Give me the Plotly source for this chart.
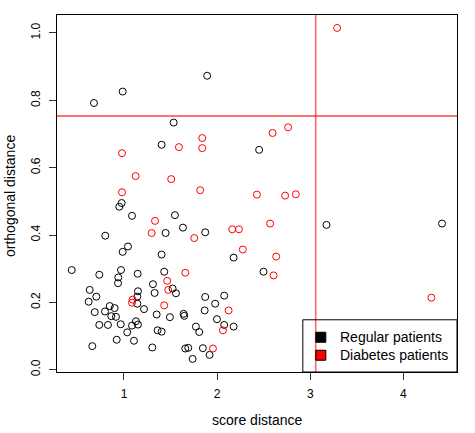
import plotly.graph_objects as go

# Regular patients (black)
reg_score = [0.678, 0.986, 1.893, 1.533, 1.404, 0.975, 0.950, 1.086, 1.547, 2.451,
             3.174, 4.414, 2.177, 2.498, 2.177, 1.633, 1.447, 1.872, 0.799, 1.043,
             0.986, 1.404, 0.439, 0.968, 0.735, 0.939, 1.147, 1.432, 0.936, 0.632,
             1.311, 1.150, 1.329, 1.522, 1.558, 0.703, 1.143, 1.872, 2.076, 0.621,
             1.143, 0.847, 0.900, 1.215, 1.866, 1.979, 0.686, 0.796, 0.864, 0.914,
             1.351, 1.493, 1.640, 1.647, 1.998, 0.735, 0.828, 0.965, 1.129, 1.086,
             1.150, 1.772, 2.076, 1.361, 1.404, 1.035, 1.808, 0.922, 1.107, 0.660,
             1.304, 1.658, 1.690, 1.847, 1.919, 1.737]
reg_orth = [0.792, 0.826, 0.873, 0.734, 0.668, 0.495, 0.484, 0.457, 0.459, 0.653,
            0.430, 0.434, 0.333, 0.291, 0.128, 0.422, 0.406, 0.408, 0.398, 0.366,
            0.350, 0.342, 0.296, 0.296, 0.282, 0.274, 0.285, 0.291, 0.257, 0.237,
            0.254, 0.233, 0.228, 0.241, 0.227, 0.217, 0.217, 0.216, 0.220, 0.202,
            0.196, 0.189, 0.183, 0.180, 0.176, 0.196, 0.171, 0.173, 0.159, 0.157,
            0.164, 0.156, 0.166, 0.160, 0.150, 0.133, 0.133, 0.135, 0.144, 0.131,
            0.134, 0.128, 0.133, 0.117, 0.113, 0.111, 0.112, 0.089, 0.086, 0.070,
            0.066, 0.063, 0.065, 0.064, 0.044, 0.032]

# Diabetes patients (red)
dia_score = [3.288, 2.762, 2.595, 1.840, 1.590, 1.840, 0.979, 1.125, 1.507, 1.818,
             0.979, 2.427, 2.730, 2.845, 1.333, 1.297, 1.754, 2.162, 2.234, 2.569,
             2.276, 2.634, 2.606, 4.300, 1.658, 1.464, 1.475, 1.093, 1.086, 1.432,
             2.123, 2.062, 1.955]
dia_orth = [1.015, 0.720, 0.703, 0.688, 0.661, 0.658, 0.643, 0.575, 0.566, 0.533,
            0.527, 0.520, 0.517, 0.521, 0.442, 0.406, 0.391, 0.417, 0.417, 0.434,
            0.357, 0.336, 0.280, 0.214, 0.288, 0.264, 0.237, 0.208, 0.199, 0.191,
            0.176, 0.117, 0.063]

cutoff_score = 3.058
cutoff_orth = 0.7535

x_ticks = [1, 2, 3, 4]
y_ticks = [0.0, 0.2, 0.4, 0.6, 0.8, 1.0]
y_tick_labels = ["0.0", "0.2", "0.4", "0.6", "0.8", "1.0"]
legend_labels = ["Regular patients", "Diabetes patients"]
legend_colors = ["black", "red"]

FONT = "Liberation Sans, Arial, Helvetica, sans-serif"

W, H = 475, 433
# plot area in window pixels: left 57, right 457.3, top 14.7, bottom 372.3
L, T = 57, 14.7
R = W - 457.3
B = H - 372.3
pw, ph = W - L - R, H - T - B


def px_x(p):
    return (p - L) / pw


def px_y(p):
    return 1 - (p - T) / ph


fig = go.Figure()
fig.add_trace(go.Scatter(x=reg_score, y=reg_orth, mode="markers",
                         marker=dict(symbol="circle-open", size=7, color="black",
                                     line=dict(width=1, color="black")),
                         showlegend=False))
fig.add_trace(go.Scatter(x=dia_score, y=dia_orth, mode="markers",
                         marker=dict(symbol="circle-open", size=7, color="red",
                                     line=dict(width=1, color="red")),
                         showlegend=False))

fig.add_hline(y=cutoff_orth, line=dict(color="rgba(255,0,0,0.75)", width=1.3))
fig.add_vline(x=cutoff_score, line=dict(color="rgba(255,0,0,0.6)", width=1.6))

# legend box
fig.add_shape(type="rect", xref="paper", yref="paper",
              x0=px_x(303), x1=1, y0=0, y1=px_y(320),
              line=dict(color="black", width=1), fillcolor="rgba(0,0,0,0)")
for i, (lab, col) in enumerate(zip(legend_labels, legend_colors)):
    cy = 337.5 + 18 * i
    fig.add_shape(type="rect", xref="paper", yref="paper",
                  x0=px_x(316), x1=px_x(326), y0=px_y(cy + 5), y1=px_y(cy - 5),
                  line=dict(color="black", width=1), fillcolor=col)
    fig.add_annotation(xref="paper", yref="paper", x=px_x(338), y=px_y(cy),
                       xanchor="left", yanchor="middle", showarrow=False,
                       text=lab, font=dict(family=FONT, size=14, color="black"))

fig.add_annotation(xref="paper", yref="paper", x=px_x(257), y=px_y(420),
                   xanchor="center", yanchor="middle", showarrow=False,
                   text="score distance", font=dict(family=FONT, size=14, color="black"))
fig.add_annotation(xref="paper", yref="paper", x=px_x(10), y=px_y(196),
                   xanchor="center", yanchor="middle", showarrow=False, textangle=-90,
                   text="orthogonal distance", font=dict(family=FONT, size=14, color="black"))

fig.update_layout(
    width=W, height=H,
    margin=dict(l=L, r=R, t=T, b=B, autoexpand=False),
    paper_bgcolor="white", plot_bgcolor="white",
    font=dict(family=FONT, size=12, color="black"),
    xaxis=dict(range=[0.281, 4.575], tickvals=x_ticks, ticks="outside", ticklen=7,
               tickcolor="#333", showgrid=False, zeroline=False, showline=True,
               linecolor="black", linewidth=1, mirror=True, automargin=False,
               tickfont=dict(family=FONT, size=12), ticklabelstandoff=4),
    yaxis=dict(range=[-0.0068, 1.0534], tickvals=y_ticks, ticktext=y_tick_labels,
               ticks="outside", ticklen=7, tickcolor="#333", tickangle=-90,
               showgrid=False, zeroline=False, showline=True, automargin=False,
               linecolor="black", linewidth=1, mirror=True,
               tickfont=dict(family=FONT, size=12), ticklabelstandoff=4),
)

fig.write_html("out.html", config={"displayModeBar": False},
               post_script="document.body.style.margin='0px';document.body.style.padding='0px';")
